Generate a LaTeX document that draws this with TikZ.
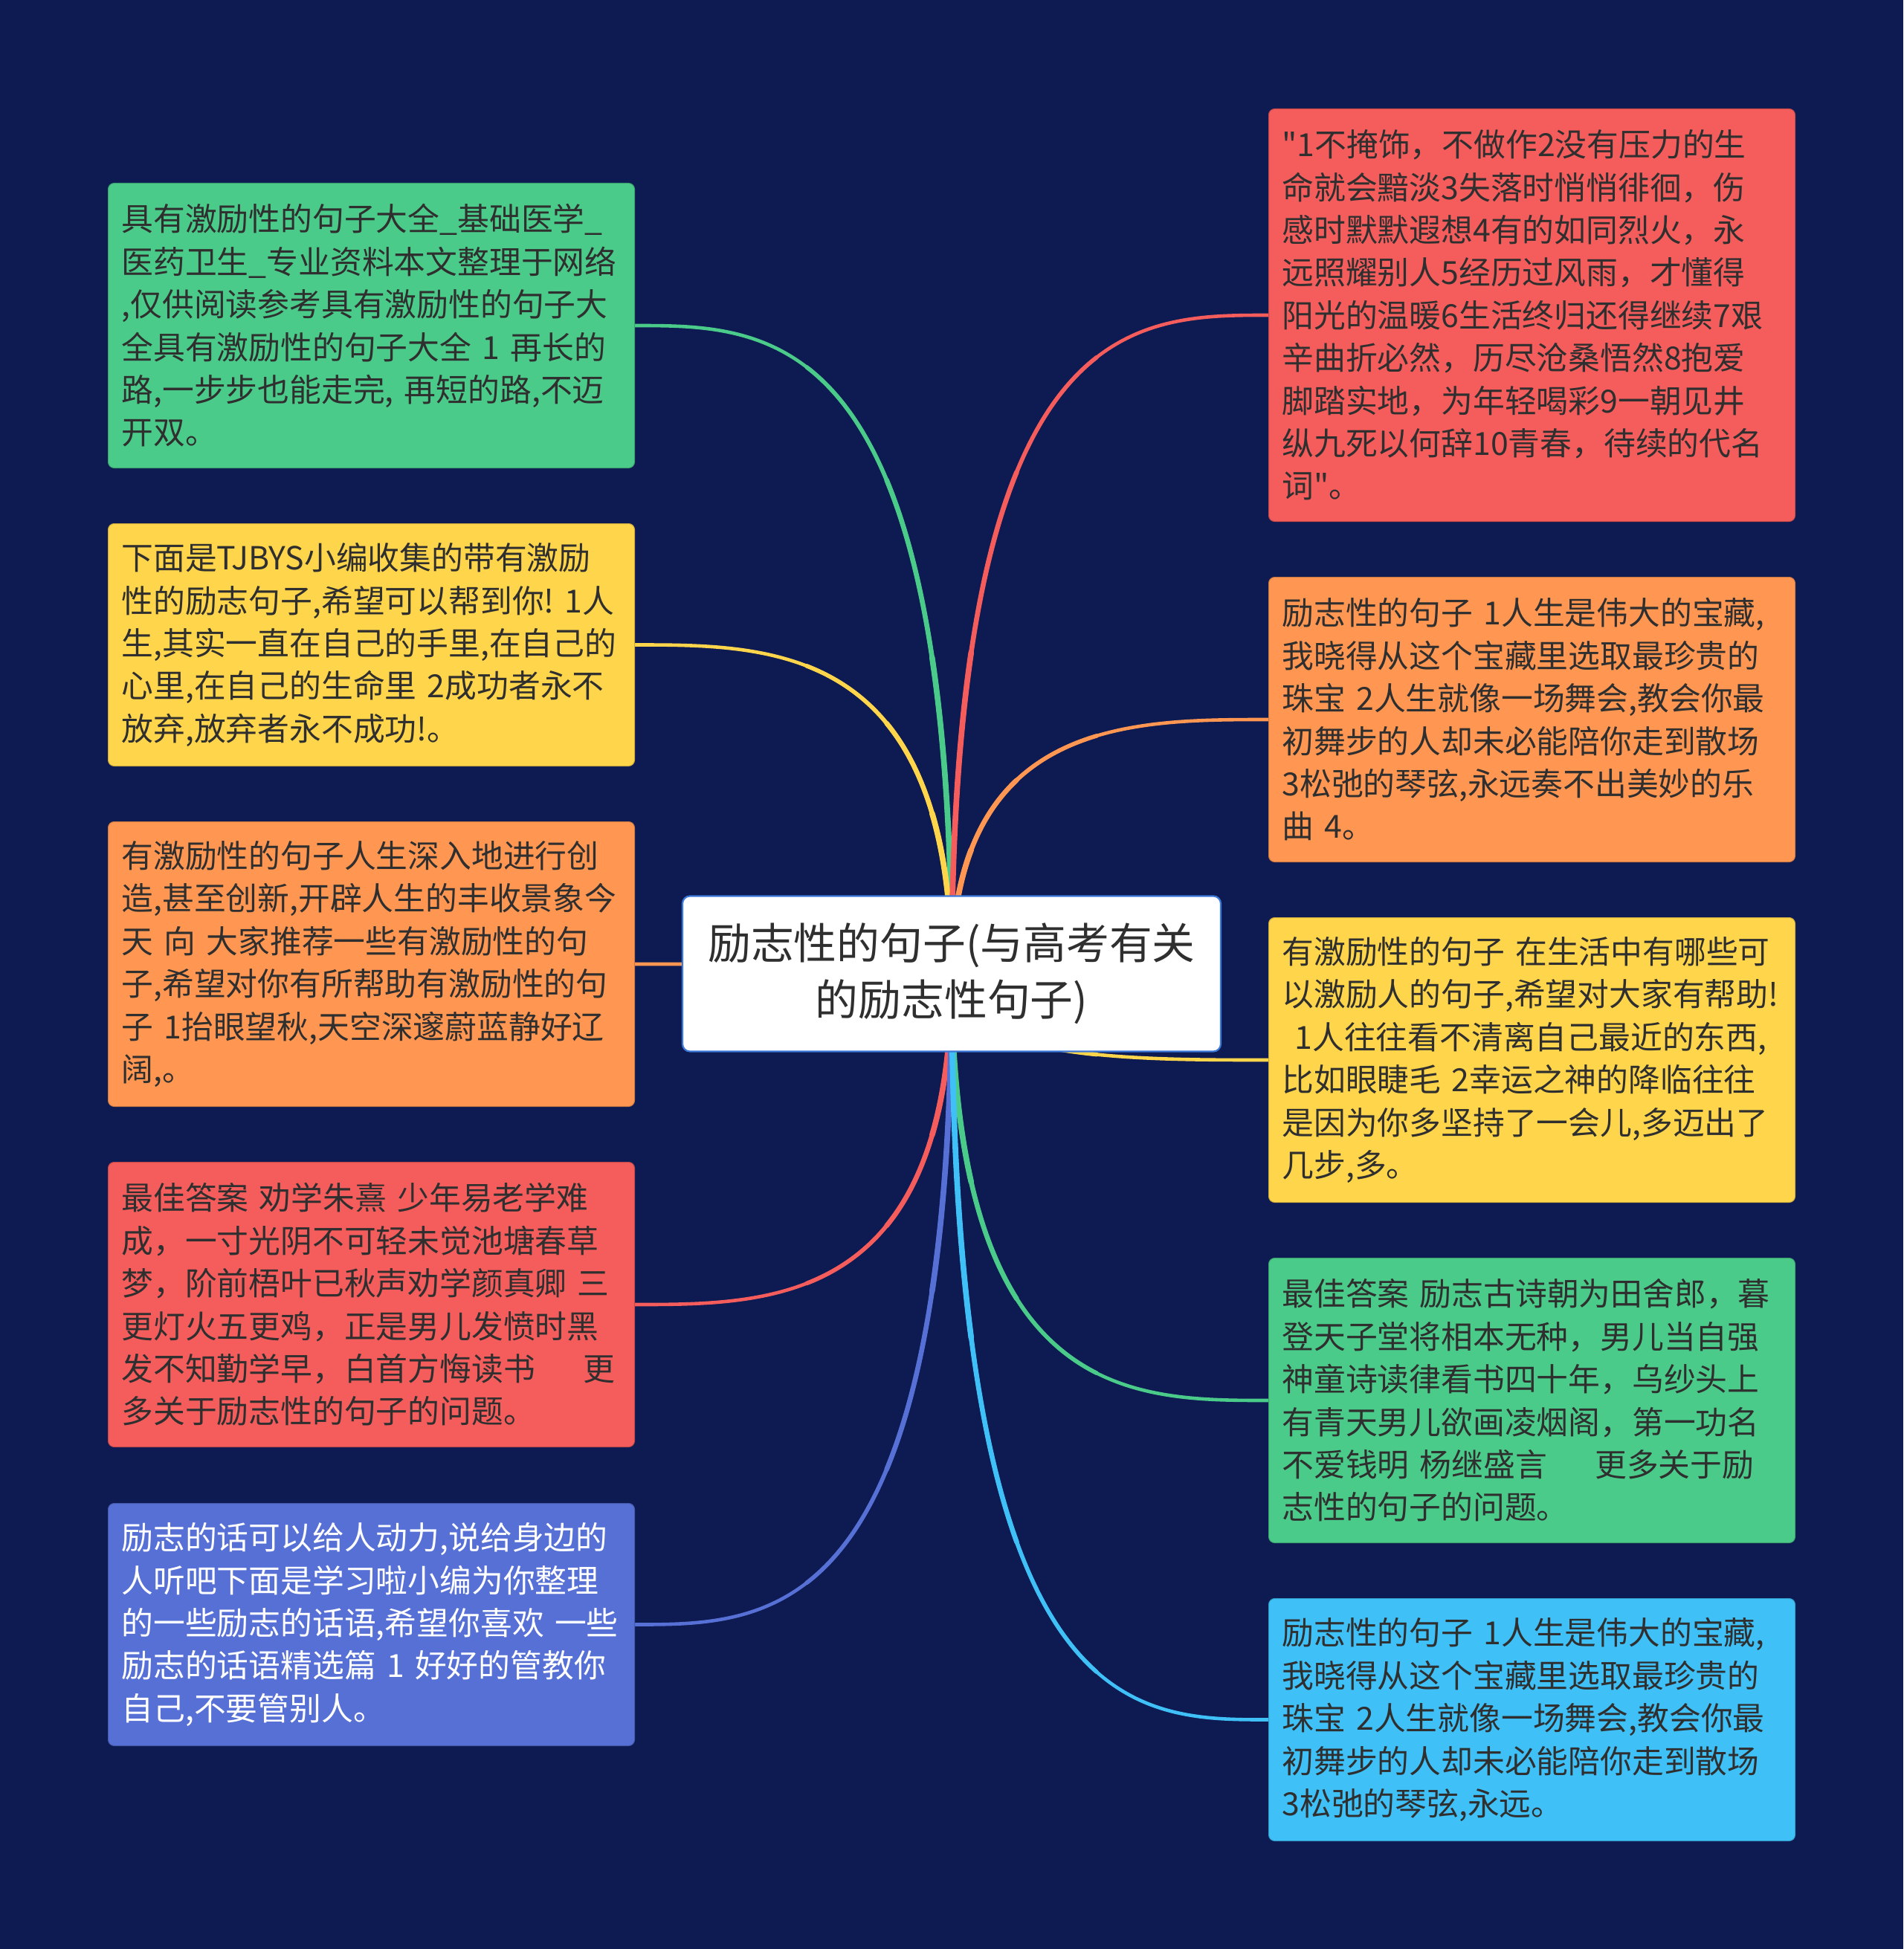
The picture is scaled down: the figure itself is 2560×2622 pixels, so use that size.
\documentclass[tikz,border=0pt]{standalone}
\usepackage{fontspec}
\newfontfamily\cjk{Noto Sans CJK SC}
\usetikzlibrary{calc}
\pgfdeclarelayer{bg}
\pgfsetlayers{bg,main}
\definecolor{bgc}{HTML}{0D1B52}
\definecolor{cgreen}{HTML}{4BCB8A}
\definecolor{cyellow}{HTML}{FFD54B}
\definecolor{corange}{HTML}{FF9752}
\definecolor{cred}{HTML}{F55D5D}
\definecolor{cpurple}{HTML}{5770D6}
\definecolor{cblue}{HTML}{3FC1F8}
\definecolor{cborder}{HTML}{3C78D8}
\definecolor{txt}{HTML}{2F2F2F}
\newcommand\mmsub[3]{%
  \path ($(p0)!#2!(p1)$) coordinate (qa) ($(p1)!#2!(p2)$) coordinate (qb) ($(p2)!#2!(p3)$) coordinate (qc);
  \path ($(qa)!#2!(qb)$) coordinate (qd) ($(qb)!#2!(qc)$) coordinate (qe);
  \path ($(qd)!#2!(qe)$) coordinate (qf);
  \draw[conn=#1, line width=#3] (p0) .. controls (qa) and (qd) .. (qf);}
\newcommand\mmcurve[3]{%
  \coordinate (p0) at (c.center);
  \coordinate (p3) at (#2.#3);
  \coordinate (p1) at (c.center |- #2.#3);
  \coordinate (p2) at ($(p1)!0.56!(p3)$);
  \draw[conn=#1, line width=2.3pt] (p0) .. controls (p1) and (p2) .. (p3);
  \mmsub{#1}{0.6}{2.8pt}
  \mmsub{#1}{0.38}{3.3pt}
  \mmsub{#1}{0.2}{3.8pt}}
\begin{document}
\begin{tikzpicture}[x=0.5pt,y=-0.5pt,
  box/.style={rounded corners=4pt, draw=#1!80!black, line width=0.5pt, fill=#1, text=txt,
    font={\cjk\fontsize{21.4pt}{28.7pt}\selectfont}, align=left, text width=336pt,
    inner xsep=9pt, inner ysep=0pt, minimum width=354pt, anchor=north west},
  conn/.style={draw=#1, line cap=round},
  hub/.style={rounded corners=5pt, draw=cborder, line width=1.1pt, fill=white, text=txt,
    font={\cjk\fontsize{28.9pt}{37.8pt}\selectfont}, align=center,
    minimum width=362pt, minimum height=104.5pt}]
\useasboundingbox (0,0) rectangle (2560,2622);

\node[hub] (c) at (1280,1310) {励志性的句子(与高考有关\\的励志性句子)};

% left column
\node[box=cgreen, minimum height=191.5pt] (l1) at (145,246) {%
具有激励性的句子大全\_基础医学\_\\
医药卫生\_专业资料本文整理于网络\\
,仅供阅读参考具有激励性的句子大\\
全具有激励性的句子大全~1~再长的\\
路,一步步也能走完,~再短的路,不迈\\
开双。};

\node[box=cyellow, minimum height=163pt] (l2) at (145,704) {%
下面是TJBYS小编收集的带有激励\\
性的励志句子,希望可以帮到你!~1人\\
生,其实一直在自己的手里,在自己的\\
心里,在自己的生命里~2成功者永不\\
放弃,放弃者永不成功!。};

\node[box=corange, minimum height=191.5pt] (l3) at (145,1105) {%
有激励性的句子人生深入地进行创\\
造,甚至创新,开辟人生的丰收景象今\\
天~向~大家推荐一些有激励性的句\\
子,希望对你有所帮助有激励性的句\\
子~1抬眼望秋,天空深邃蔚蓝静好辽\\
阔,。};

\node[box=cred, minimum height=191.5pt] (l4) at (145,1563) {%
最佳答案~劝学朱熹~少年易老学难\\
成，一寸光阴不可轻未觉池塘春草\\
梦，阶前梧叶已秋声劝学颜真卿~三\\
更灯火五更鸡，正是男儿发愤时黑\\
发不知勤学早，白首方悔读书\nobreak\hspace{1.5em}\nobreak 更\\
多关于励志性的句子的问题。};

\node[box=cpurple, text=white, minimum height=163pt] (l5) at (145,2022) {%
励志的话可以给人动力,说给身边的\\
人听吧下面是学习啦小编为你整理\\
的一些励志的话语,希望你喜欢~一些\\
励志的话语精选篇~1~好好的管教你\\
自己,不要管别人。};

% right column
\node[box=cred, minimum height=277.5pt] (r1) at (1706,146) {%
"1不掩饰，不做作2没有压力的生\\
命就会黯淡3失落时悄悄徘徊，伤\\
感时默默遐想4有的如同烈火，永\\
远照耀别人5经历过风雨，才懂得\\
阳光的温暖6生活终归还得继续7艰\\
辛曲折必然，历尽沧桑悟然8抱爱\\
脚踏实地，为年轻喝彩9一朝见井\\
纵九死以何辞10青春，待续的代名\\
词"。};

\node[box=corange, minimum height=191.5pt] (r2) at (1706,776) {%
励志性的句子~1人生是伟大的宝藏,\\
我晓得从这个宝藏里选取最珍贵的\\
珠宝~2人生就像一场舞会,教会你最\\
初舞步的人却未必能陪你走到散场\\
3松弛的琴弦,永远奏不出美妙的乐\\
曲~4。};

\node[box=cyellow, minimum height=191.5pt] (r3) at (1706,1234) {%
有激励性的句子~在生活中有哪些可\\
以激励人的句子,希望对大家有帮助!\\
\hspace*{0.4em}1人往往看不清离自己最近的东西,\\
比如眼睫毛~2幸运之神的降临往往\\
是因为你多坚持了一会儿,多迈出了\\
几步,多。};

\node[box=cgreen, minimum height=191.5pt] (r4) at (1706,1692) {%
最佳答案~励志古诗朝为田舍郎，暮\\
登天子堂将相本无种，男儿当自强\\
神童诗读律看书四十年，乌纱头上\\
有青天男儿欲画凌烟阁，第一功名\\
不爱钱明~杨继盛言\nobreak\hspace{1.5em}\nobreak 更多关于励\\
志性的句子的问题。};

\node[box=cblue, minimum height=163pt] (r5) at (1706,2150) {%
励志性的句子~1人生是伟大的宝藏,\\
我晓得从这个宝藏里选取最珍贵的\\
珠宝~2人生就像一场舞会,教会你最\\
初舞步的人却未必能陪你走到散场\\
3松弛的琴弦,永远。};

\begin{pgfonlayer}{bg}
\fill[bgc] (0,0) rectangle (2560,2622);
\mmcurve{cgreen}{l1}{east}
\mmcurve{cyellow}{l2}{east}
\mmcurve{corange}{l3}{east}
\mmcurve{cred}{l4}{east}
\mmcurve{cpurple}{l5}{east}
\mmcurve{cred}{r1}{west}
\mmcurve{corange}{r2}{west}
\mmcurve{cyellow}{r3}{west}
\mmcurve{cgreen}{r4}{west}
\mmcurve{cblue}{r5}{west}
\end{pgfonlayer}
\end{tikzpicture}
\end{document}
